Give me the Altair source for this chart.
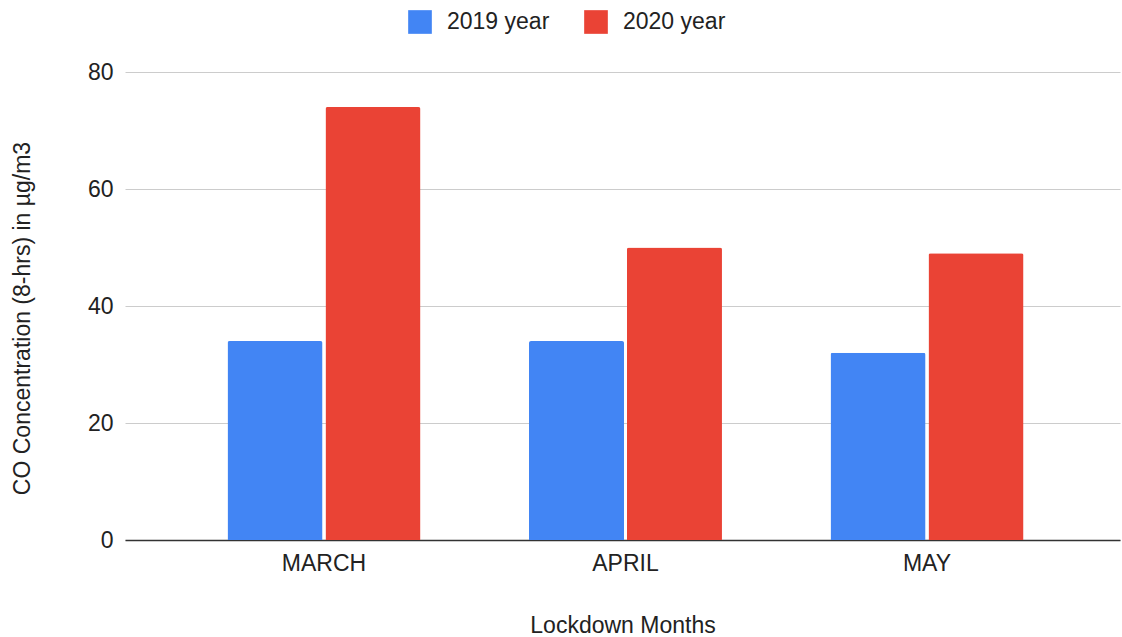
import altair as alt
import pandas as pd

months = ["MARCH", "APRIL", "MAY"]
years = ["2019 year", "2020 year"]
values_2019 = [34, 34, 32]
values_2020 = [74, 50, 49]

rows = []
for m, a, b in zip(months, values_2019, values_2020):
    rows.append({"month": m, "year": years[0], "value": a})
    rows.append({"month": m, "year": years[1], "value": b})
df = pd.DataFrame(rows)

FONT = "Liberation Sans"
FS = 23

chart = alt.Chart(df).mark_bar(cornerRadiusTopLeft=2, cornerRadiusTopRight=2).encode(
    x=alt.X("month:N", sort=months, title="Lockdown Months",
            scale=alt.Scale(paddingInner=0.36, paddingOuter=0.33, align=0.515),
            axis=alt.Axis(labelAngle=0, labelFontSize=FS, titleFontSize=FS,
                          labelPadding=12, titlePadding=39, ticks=False,
                          domainColor="#333333", domainWidth=1.3,
                          labelColor="#222222", titleColor="#222222")),
    xOffset=alt.XOffset("year:N", sort=years, scale=alt.Scale(paddingInner=0.03)),
    y=alt.Y("value:Q", title="CO Concentration (8-hrs) in µg/m3",
            scale=alt.Scale(domain=[0, 80]),
            axis=alt.Axis(values=[0, 20, 40, 60, 80], labelFontSize=FS, titleFontSize=FS,
                          ticks=False, domain=False, gridColor="#cccccc",
                          labelPadding=12, titlePadding=53, titleY=246,
                          labelColor="#222222", titleColor="#222222")),
    color=alt.Color("year:N", sort=years,
                    scale=alt.Scale(domain=years, range=["#4285F4", "#EA4335"]),
                    legend=alt.Legend(title=None, orient="none", direction="horizontal",
                                      legendX=283, legendY=-62,
                                      symbolType="square", symbolSize=560,
                                      symbolStrokeWidth=0, labelFontSize=FS,
                                      labelColor="#222222", columnPadding=34,
                                      labelOffset=15)),
).properties(
    width=995, height=468,
    autosize=alt.AutoSizeParams(type="none"),
    padding={"left": 125, "top": 72, "right": 2, "bottom": 97},
).configure(font=FONT).configure_view(stroke=None).configure_axis(
    titleFontWeight="normal", labelFont=FONT, titleFont=FONT
).configure_legend(labelFont=FONT)

chart.save("out.html", embed_options={"renderer": "svg", "actions": False})
